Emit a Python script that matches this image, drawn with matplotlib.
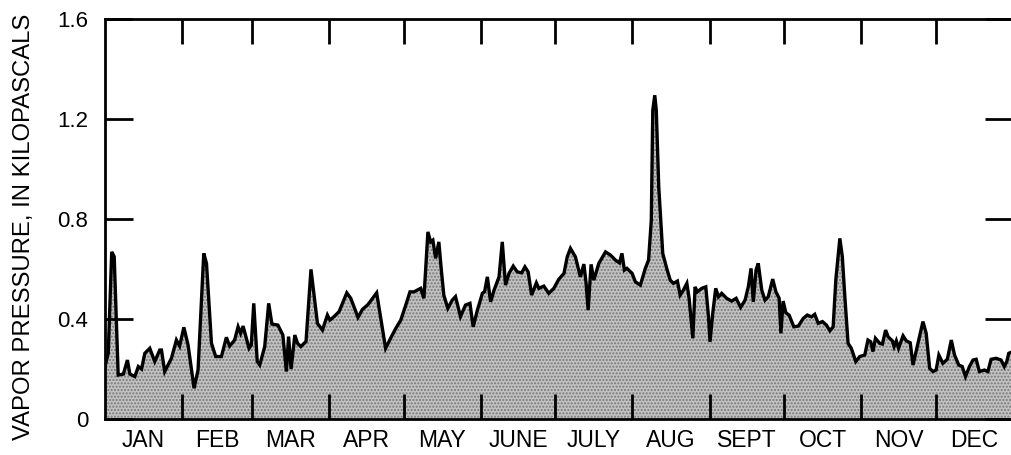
import matplotlib
matplotlib.use("Agg")
import matplotlib.pyplot as plt
import numpy as np

# Day of year (vertices of the daily trace) and vapor pressure, kPa
days = [0, 1.3, 2.7, 3.7, 5.3, 7.4, 9.0, 10.0, 12.0, 13.4, 14.7, 16.0, 18.0, 20.0,
        22.0, 22.7, 24.0, 26.7, 28.7, 30.0, 31.7, 33.4, 35.8, 37.4, 39.7, 40.8,
        42.8, 44.5, 46.8, 48.8, 50.1, 52.1, 53.5, 54.5, 55.5, 57.9, 58.8, 59.8,
        61.2, 62.2, 64.2, 65.8, 67.1, 69.5, 71.5, 72.9, 73.8, 74.8, 76.3, 77.4,
        78.7, 80.8, 82.8, 84.1, 85.4, 87.4, 89.4, 90.4, 92.1, 94.1, 97.2, 98.8,
        101.7, 103.5, 105.5, 106.6, 109.2, 112.8, 114.8, 116.9, 118.9, 120.9,
        122.6, 124.2, 126.9, 128.2, 129.8, 130.9, 131.8, 132.9, 134.2, 135.2,
        136.2, 137.8, 139.6, 140.9, 142.9, 144.9, 146.7, 148.0, 149.7, 151.7,
        152.6, 153.7, 155.0, 156.4, 158.4, 159.7, 161.0, 162.4, 164.1, 165.7,
        167.5, 168.8, 170.1, 171.5, 173.4, 174.4, 176.4, 178.4, 180.4, 182.4,
        184.5, 185.8, 187.1, 189.1, 191.1, 192.5, 193.4, 194.2, 195.4, 196.5,
        198.5, 201.2, 203.2, 205.2, 206.8, 207.8, 208.8, 209.8, 211.9, 213.2,
        215.2, 217.2, 218.5, 219.6, 220.2, 221.0, 221.6, 222.6, 223.4, 224.2,
        225.8, 227.2, 228.5, 230.1, 231.2, 232.5, 233.9, 234.8, 236.3, 237.2,
        238.1, 239.9, 241.5, 242.6, 243.2, 244.3, 245.5, 246.6, 247.9, 249.9,
        251.9, 253.7, 255.5, 257.3, 258.6, 259.7, 260.6, 261.7, 262.6, 264.0,
        265.3, 266.6, 268.4, 269.7, 271.0, 271.7, 272.6, 273.7, 275.0, 276.9,
        278.7, 280.7, 282.3, 284.0, 285.3, 286.7, 288.4, 290.0, 291.4, 292.7,
        293.8, 295.4, 296.4, 297.4, 298.7, 300.0, 301.8, 303.4, 305.4, 306.7,
        307.8, 308.7, 309.7, 311.4, 312.5, 313.8, 314.8, 316.5, 317.2, 318.1,
        319.0, 320.8, 322.1, 323.7, 324.8, 326.8, 328.8, 330.1, 331.5, 332.8,
        334.1, 335.2, 336.8, 338.6, 340.2, 341.5, 343.2, 344.6, 345.9, 347.5,
        348.9, 350.2, 351.5, 353.5, 354.9, 356.2, 358.2, 360.2, 361.5, 362.5,
        363.3, 365.0]
vapor = [0.21, 0.263, 0.669, 0.65, 0.176, 0.18, 0.236, 0.18, 0.17, 0.21, 0.20, 0.263,
         0.283, 0.23, 0.276, 0.276, 0.19, 0.243, 0.316, 0.292, 0.367, 0.296, 0.123,
         0.196, 0.663, 0.623, 0.303, 0.25, 0.25, 0.327, 0.292, 0.316, 0.369, 0.343,
         0.372, 0.283, 0.296, 0.463, 0.23, 0.216, 0.29, 0.463, 0.38, 0.376, 0.336,
         0.19, 0.33, 0.20, 0.336, 0.303, 0.29, 0.31, 0.599, 0.49, 0.383, 0.356,
         0.416, 0.396, 0.41, 0.43, 0.505, 0.483, 0.407, 0.439, 0.456, 0.47, 0.505,
         0.283, 0.323, 0.363, 0.396, 0.456, 0.509, 0.509, 0.523, 0.483, 0.749,
         0.709, 0.716, 0.643, 0.709, 0.596, 0.496, 0.443, 0.476, 0.49, 0.41, 0.456,
         0.463, 0.369, 0.436, 0.503, 0.51, 0.569, 0.469, 0.516, 0.569, 0.709, 0.536,
         0.583, 0.612, 0.589, 0.585, 0.609, 0.589, 0.496, 0.545, 0.523, 0.532,
         0.503, 0.523, 0.559, 0.583, 0.649, 0.683, 0.649, 0.569, 0.62, 0.543,
         0.436, 0.619, 0.556, 0.623, 0.669, 0.656, 0.636, 0.625, 0.663, 0.596,
         0.603, 0.583, 0.549, 0.536, 0.603, 0.636, 0.796, 1.236, 1.296, 1.236,
         0.929, 0.796, 0.663, 0.603, 0.556, 0.543, 0.552, 0.496, 0.516, 0.543,
         0.483, 0.323, 0.529, 0.509, 0.523, 0.529, 0.409, 0.309, 0.423, 0.523,
         0.489, 0.503, 0.483, 0.472, 0.483, 0.447, 0.476, 0.529, 0.603, 0.469,
         0.596, 0.623, 0.516, 0.476, 0.489, 0.56, 0.509, 0.483, 0.343, 0.472,
         0.425, 0.416, 0.369, 0.372, 0.403, 0.416, 0.409, 0.419, 0.383, 0.39,
         0.376, 0.353, 0.369, 0.56, 0.723, 0.649, 0.49, 0.303, 0.283, 0.23, 0.25,
         0.256, 0.316, 0.309, 0.27, 0.323, 0.303, 0.30, 0.356, 0.329, 0.313, 0.29,
         0.313, 0.283, 0.333, 0.313, 0.305, 0.216, 0.303, 0.39, 0.343, 0.203, 0.19,
         0.196, 0.256, 0.223, 0.239, 0.316, 0.256, 0.216, 0.21, 0.17, 0.21, 0.236,
         0.239, 0.19, 0.196, 0.19, 0.239, 0.243, 0.236, 0.21, 0.23, 0.263, 0.27]

month_starts = [31, 59, 90, 120, 151, 181, 212, 243, 273, 304, 334]
month_mids = [15.5, 45, 74.5, 105, 135.5, 166, 196.5, 227.5, 258, 288.5, 319, 349.5]
month_labels = ["JAN", "FEB", "MAR", "APR", "MAY", "JUNE", "JULY", "AUG", "SEPT",
                "OCT", "NOV", "DEC"]
y_ticks = [0, 0.4, 0.8, 1.2, 1.6]
y_ticklabels = ["0", "0.4", "0.8", "1.2", "1.6"]

plt.rcParams['font.family'] = ['Liberation Sans', 'DejaVu Sans']

W, H = 1011, 455
fig = plt.figure(figsize=(W / 100, H / 100), dpi=100)
left, right, top, bottom = 105, 1013, 19.3, 419
ax = fig.add_axes([left / W, 1 - bottom / H, (right - left) / W, (bottom - top) / H])

ax.fill_between(days, vapor, 0, facecolor='#c2c2c2', edgecolor='#777777',
                hatch='.....', linewidth=0)
ax.plot(days, vapor, color='black', linewidth=2.4, solid_joinstyle='miter')

ax.set_xlim(0, 365)
ax.set_ylim(0, 1.6)

ax.set_xticks(month_starts)
ax.set_xticklabels([])
ax.set_xticks(month_mids, minor=True)
ax.set_xticklabels(month_labels, minor=True, fontsize=16.5)
ax.tick_params(axis='x', which='major', direction='in', length=18, width=2,
               top=True, bottom=True)
ax.tick_params(axis='x', which='minor', length=0, pad=7)

ax.set_yticks(y_ticks)
ax.set_yticklabels(y_ticklabels, fontsize=16)
ax.tick_params(axis='y', which='major', direction='in', length=20, width=2,
               left=True, right=True, pad=12)

for s in ax.spines.values():
    s.set_linewidth(2)

fig.text(24 / W, 1 - 227 / H, "VAPOR PRESSURE, IN KILOPASCALS", rotation=90,
         ha='center', va='center', fontsize=17.2)

fig.savefig("out.png", dpi=100)
